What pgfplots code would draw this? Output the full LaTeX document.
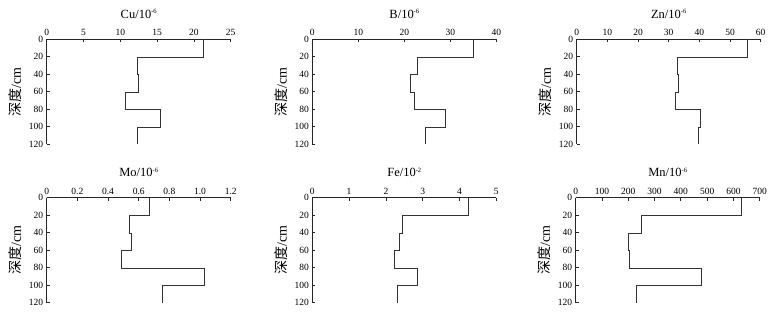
\documentclass[border=0pt]{standalone}
\usepackage{fontspec}
\setmainfont{Liberation Serif}
\newfontfamily\cjk{Noto Sans CJK SC}
\usepackage{pgfplots}
\pgfplotsset{compat=1.18}
\newcommand{\supx}[1]{\raisebox{4.5pt}{\fontsize{6.5}{7}\selectfont #1}}
\pgfplotsset{prof/.style={
  width=184pt,height=105pt,scale only axis,
  y dir=reverse, ymin=0, ymax=120, ytick={0,20,...,120},
  axis x line*=top, axis y line*=left,
  axis line style={-,line width=0.9pt,black!85},
  tick align=inside, major tick length=3pt,
  tick style={line width=0.8pt,black!85},
  ticklabel style={font=\fontsize{9.5}{10}\selectfont},
  /pgf/number format/assume math mode=true,
  ylabel={{\cjk 深度}/cm},
  ylabel style={font=\fontsize{14}{14}\selectfont},
  ylabel shift=0pt,
  title style={font=\fontsize{12.5}{13}\selectfont, at={(0.5,1)}, anchor=base, yshift=15pt},
  cycle list={{black!80,line width=0.85pt,mark=none}},
  clip=false,
}}
\begin{document}
\begin{tikzpicture}
\path[use as bounding box] (0,0) rectangle (774pt,-313pt);
% Cu
\begin{axis}[prof, at={(46.7pt,-39.3pt)}, anchor=north west,
  xmin=0, xmax=25, xtick={0,5,...,25}, title={Cu/10\supx{-6}}]
\addplot coordinates {(21.3,0) (21.3,20) (12.3,20) (12.3,40) (12.45,40) (12.45,60) (10.7,60) (10.7,80) (15.45,80) (15.45,100) (12.3,100) (12.3,120)};
\end{axis}
% B
\begin{axis}[prof, at={(312.3pt,-39.3pt)}, anchor=north west,
  xmin=0, xmax=40, xtick={0,10,...,40}, title={B/10\supx{-6}}]
\addplot coordinates {(35.0,0) (35.0,20) (22.8,20) (22.8,40) (21.3,40) (21.3,60) (22.1,60) (22.1,80) (28.9,80) (28.9,100) (24.6,100) (24.6,120)};
\end{axis}
% Zn
\begin{axis}[prof, at={(576.7pt,-39.3pt)}, anchor=north west,
  xmin=0, xmax=60, xtick={0,10,...,60}, title={Zn/10\supx{-6}}]
\addplot coordinates {(55.7,0) (55.7,20) (32.8,20) (32.8,40) (33.2,40) (33.2,60) (32.0,60) (32.0,80) (40.2,80) (40.2,100) (39.5,100) (39.5,120)};
\end{axis}
% Mo
\begin{axis}[prof, at={(46.7pt,-197.7pt)}, anchor=north west,
  xmin=0, xmax=1.2, xtick={0,0.2,...,1.2}, xticklabels={0,0.2,0.4,0.6,0.8,1.0,1.2}, title={Mo/10\supx{-6}}]
\addplot coordinates {(0.668,0) (0.668,20) (0.538,20) (0.538,40) (0.549,40) (0.549,60) (0.484,60) (0.484,80) (1.029,80) (1.029,100) (0.755,100) (0.755,120)};
\end{axis}
% Fe
\begin{axis}[prof, at={(312.3pt,-197.7pt)}, anchor=north west,
  xmin=0, xmax=5, xtick={0,1,...,5}, title={Fe/10\supx{-2}}]
\addplot coordinates {(4.24,0) (4.24,20) (2.44,20) (2.44,40) (2.35,40) (2.35,60) (2.23,60) (2.23,80) (2.84,80) (2.84,100) (2.32,100) (2.32,120)};
\end{axis}
% Mn
\begin{axis}[prof, at={(575.7pt,-197.7pt)}, anchor=north west,
  xmin=0, xmax=700, xtick={0,100,...,700}, title={Mn/10\supx{-6}}]
\addplot coordinates {(628,0) (628,20) (248,20) (248,40) (199,40) (199,60) (202,60) (202,80) (477,80) (477,100) (231,100) (231,120)};
\end{axis}
\end{tikzpicture}
\end{document}
